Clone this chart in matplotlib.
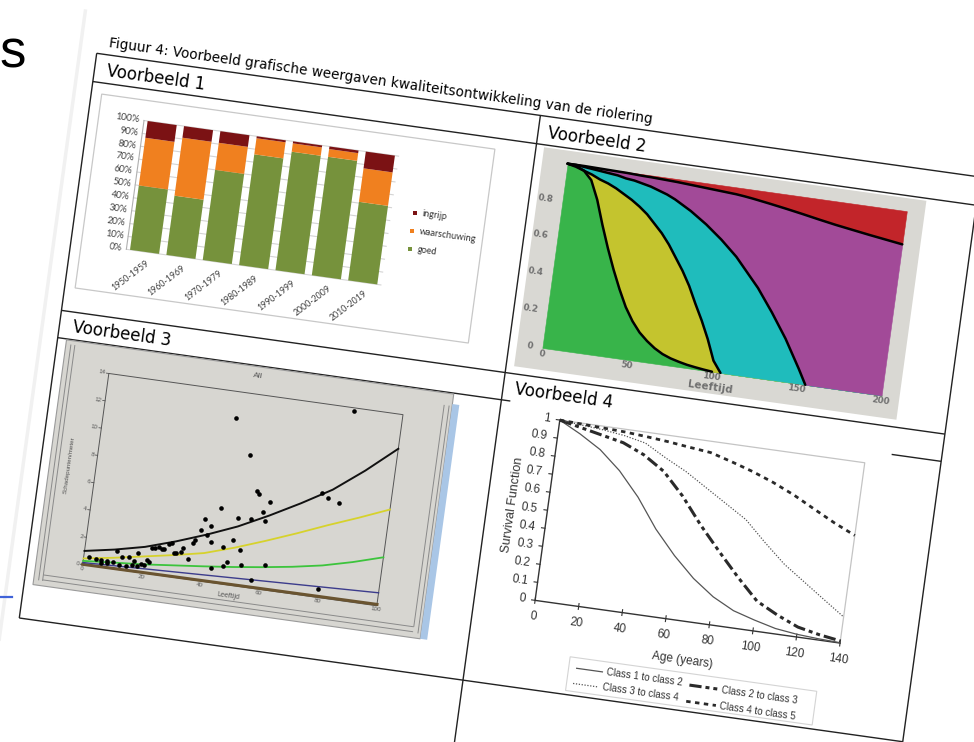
import numpy as np
import matplotlib
matplotlib.use("Agg")
import matplotlib.pyplot as plt
from matplotlib.transforms import Affine2D
from matplotlib.patches import Polygon

# ---------------- data ----------------
# Voorbeeld 1: share of sewer length per construction period (%)
periods = ["1950-1959", "1960-1969", "1970-1979", "1980-1989",
           "1990-1999", "2000-2009", "2010-2019"]
goed = [50, 46, 70, 86, 92, 92, 61]
waarschuwing = [37, 45, 21, 12.5, 6.5, 6, 26]
ingrijp = [13, 9, 9, 1.5, 1.5, 2, 13]

# Voorbeeld 2: cumulative condition-class boundaries vs age
age2 = [0, 5, 10, 15, 20, 25, 30, 35, 40, 45, 50, 55, 60, 65, 70, 75, 80, 85, 90, 95,
        100, 105, 110, 120, 130, 140, 150, 155, 160, 170, 180, 190, 200]
bound1 = [1.0, 0.995, 0.975, 0.93, 0.83, 0.70, 0.58, 0.47, 0.37, 0.28, 0.21, 0.155, 0.115,
          0.082, 0.057, 0.04, 0.028, 0.018, 0.011, 0.005, 0.0,
          0, 0, 0, 0, 0, 0, 0, 0, 0, 0, 0, 0]
bound2 = [1.0, 0.99, 0.975, 0.96, 0.94, 0.925, 0.905, 0.88, 0.855, 0.825, 0.79, 0.745,
          0.70, 0.645, 0.58, 0.515, 0.44, 0.35, 0.265, 0.17, 0.06,
          0.0, 0, 0, 0, 0, 0, 0, 0, 0, 0, 0, 0]
bound3 = [1.0, 1.0, 0.995, 0.99, 0.985, 0.98, 0.975, 0.965, 0.96, 0.95, 0.94, 0.925,
          0.91, 0.89, 0.865, 0.84, 0.81, 0.78, 0.745, 0.71, 0.67,
          0.63, 0.58, 0.48, 0.36, 0.23, 0.08, 0.0, 0, 0, 0, 0, 0]
bound4 = [1.0, 1.0, 1.0, 0.999, 0.998, 0.997, 0.996, 0.995, 0.993, 0.991, 0.99, 0.988,
          0.986, 0.984, 0.981, 0.978, 0.975, 0.972, 0.969, 0.966, 0.963,
          0.958, 0.952, 0.938, 0.923, 0.907, 0.89, 0.882, 0.874, 0.86, 0.846, 0.833, 0.82]
colors2 = ["#38b44a", "#c4c42e", "#1fbcbc", "#a24a98", "#c2252a"]

# Voorbeeld 3: damage points per metre vs age
pts3_x = [1.9, 4.2, 5.9, 7.9, 9.9, 11.0, 12.9, 15.1, 17.0, 17.9, 19.3, 21.2, 21.9, 22.4,
          23.3, 24.6, 25.6, 26.6, 27.8, 28.8, 29.9, 30.7, 32.1, 32.7, 34.8, 12.2, 14.4,
          16.6, 18.3, 20.5, 6.0, 8.2,
          35.8, 36.4, 37.8, 38.7, 40.1, 40.9, 41.8, 43.0, 43.7, 45.9, 46.9, 48.0, 48.9,
          49.7, 51.9, 52.8, 53.9, 44.5, 50.7, 54.7, 55.7, 57.7, 58.8, 59.7, 60.9, 56.9,
          76.5, 78.7, 82.6, 79.8, 83.4]
pts3_y = [0.59, 0.53, 0.49, 0.48, 0.46, 1.29, 0.94, 1.0, 0.81, 1.38, 0.61, 0.94, 0.87, 1.87,
          1.95, 2.01, 1.94, 1.92, 2.35, 2.42, 1.73, 1.80, 1.86, 2.17, 1.45, 0.36, 0.34,
          0.49, 0.46, 0.6, 0.3, 0.33,
          2.68, 2.89, 3.66, 4.54, 3.36, 4.04, 2.93, 1.01, 5.46, 2.68, 1.30, 1.65, 3.26,
          4.93, 2.61, 1.54, 4.98, 12.06, 9.56, 7.03, 6.86, 5.58, 4.93, 6.37, 1.83, 0.57,
          7.52, 7.22, 6.97, 0.6, 13.76]
age3 = [0, 10, 20, 30, 40, 50, 60, 70, 80, 90, 100]
fit_black = [1.0, 1.4, 1.9, 2.6, 3.4, 4.3, 5.4, 6.6, 7.9, 9.6, 11.5]
fit_yellow = [0.45, 0.8, 1.2, 1.6, 2.05, 2.75, 3.55, 4.4, 5.3, 6.15, 7.05]
fit_green = [0.27, 0.45, 0.62, 0.85, 1.08, 1.33, 1.62, 1.95, 2.35, 2.9, 3.55]
line_x = [0, 100]
fit_blue = [0.15, 0.95]
fit_brown = [0.02, 0.1]

# Voorbeeld 4: survival functions
age4 = [0, 10, 20, 30, 40, 50, 60, 70, 80, 90, 100, 110, 120, 130, 140]
class12 = [1.0, 0.94, 0.87, 0.77, 0.64, 0.48, 0.35, 0.24, 0.155, 0.095, 0.06, 0.03, 0.015, 0.007, 0.002]
class23 = [1.0, 0.975, 0.95, 0.925, 0.875, 0.80, 0.68, 0.535, 0.405, 0.28, 0.165, 0.105, 0.055, 0.03, 0.012]
class34 = [1.0, 0.99, 0.98, 0.965, 0.94, 0.875, 0.816, 0.744, 0.672, 0.6, 0.49, 0.387, 0.306, 0.225, 0.145]
class45 = [1.0, 0.995, 0.99, 0.985, 0.976, 0.965, 0.951, 0.938, 0.904, 0.867, 0.823, 0.771, 0.71, 0.65, 0.597]

# ---------------- canvas ----------------
W, H = 974, 742
fig = plt.figure(figsize=(W / 100, H / 100), dpi=100)
ax = fig.add_axes([0, 0, 1, 1])
ax.set_xlim(0, W)
ax.set_ylim(H, 0)
ax.set_autoscale_on(False)
ax.axis("off")

# the scanned page is slightly rotated: page (u, v) -> pixels
page = Affine2D(np.array([[0.9904, -0.1358, 96.7],
                          [0.1387, 0.9907, 53.3],
                          [0, 0, 1.0]])) + ax.transData
TILT = -8


def panel(x0, x1, y0, y1, u0, u1, vb, vt):
    # data box of one chart placed on the page
    return (Affine2D().translate(-x0, -y0)
            .scale((u1 - u0) / (x1 - x0), (vt - vb) / (y1 - y0))
            .translate(u0, vb) + page)


def txt(tr, x, y, s, size, rot=0, **kw):
    kw.setdefault("color", "black")
    ax.text(x, y, s, transform=tr, fontsize=size, rotation=rot + TILT,
            rotation_mode="anchor", **kw)


def box(u0, u1, v0, v1, fc, ec="none", lw=0.8, z=2):
    ax.add_patch(Polygon([(u0, v0), (u1, v0), (u1, v1), (u0, v1)], closed=True,
                         facecolor=fc, edgecolor=ec, lw=lw, transform=page, zorder=z))


def pline(us, vs, color="#222222", lw=1.0, z=1):
    ax.plot(us, vs, color=color, lw=lw, transform=page, zorder=z, solid_capstyle="butt")


# slide remnants
ax.text(-1, 67, "s", fontsize=38, family="Liberation Sans", va="baseline", ha="left")
ax.plot([0, 12], [597, 597], color="#3f62d8", lw=1.6)

# page edge and table
pline([-17, -17], [800, -42], color="#f1f1f1", lw=2.5, z=0)
pline([0, 892], [0, 0])
pline([0, 892], [28.5, 28.5])
pline([0, 892], [259.5, 259.5])
pline([0, 892], [287, 287])
pline([0, 892], [570, 570])
pline([0, 0], [0, 570])
pline([448, 448], [0, 660])
pline([892, 892], [0, 720])

doc = dict(family="DejaVu Sans", va="baseline", ha="left")
txt(page, 11, -7.5, "Figuur 4: Voorbeeld grafische weergaven kwaliteitsontwikkeling van de riolering", 9.8, **doc)
txt(page, 12, 21, "Voorbeeld 1", 12, **doc)
txt(page, 458, 21, "Voorbeeld 2", 12, **doc)
txt(page, 13, 280, "Voorbeeld 3", 12, **doc)
txt(page, 460, 279, "Voorbeeld 4", 12, **doc)

# ---------------- Voorbeeld 1: stacked bars ----------------
box(10.5, 407.5, 39.7, 235.4, "white", "#c8c8c8", 0.9)
T1 = panel(-0.5, 6.5, 0, 100, 56, 313, 190, 60)
xb = np.arange(len(periods))
g = np.array(goed)
w = np.array(waarschuwing)
for t in range(0, 101, 10):
    ax.plot([-0.5, 6.5], [t, t], color="#d4d4d4", lw=0.8, transform=T1, zorder=3)
    txt(T1, -0.62, t, f"{t}%", 6.8, family="Lato", ha="right", va="center", color="#404040")
ax.plot([-0.5, -0.5], [0, 100], color="#b0b0b0", lw=0.8, transform=T1, zorder=3)
ax.bar(xb, g, 0.8, color="#76923c", transform=T1, zorder=4)
ax.bar(xb, w, 0.8, bottom=g, color="#f0801f", transform=T1, zorder=4)
ax.bar(xb, ingrijp, 0.8, bottom=g + w, color="#7b1214", transform=T1, zorder=4)
for i, p in enumerate(periods):
    txt(T1, i + 0.05, -5, p, 6.3, rot=45, family="Lato", ha="right", va="top", color="#404040")
leg1 = [("ingrijp", "#7b1214"), ("waarschuwing", "#f0801f"), ("goed", "#76923c")]
for k, (name, c) in enumerate(leg1):
    yl = 58.5 - 14 * k
    ax.scatter([7.15], [yl], marker="s", s=12, color=c, transform=T1, zorder=4, linewidths=0)
    txt(T1, 7.35, yl, name, 6.6, family="Lato", ha="left", va="center", color="#303030")

# ---------------- Voorbeeld 2: stacked areas ----------------
box(456, 842, 31, 252, "#d9d8d3")
T2 = panel(0, 200, 0, 1, 481.5, 824, 230, 44)
layers = [np.zeros(len(age2)), bound1, bound2, bound3, bound4, np.ones(len(age2))]
for k in range(5):
    ax.fill_between(age2, layers[k], layers[k + 1], facecolor=colors2[k],
                    edgecolor=colors2[k], lw=0.4, transform=T2, zorder=3)
for b in (bound1, bound2, bound3, bound4):
    b = np.array(b)
    zero = np.where(b <= 0)[0]
    end = zero[0] + 1 if len(zero) else len(b)
    ax.plot(age2[:end], b[:end], color="black", lw=1.8, transform=T2, zorder=4,
            solid_capstyle="round", solid_joinstyle="round")
lab2 = dict(family="DejaVu Sans", weight="bold", color="#707070")
for t in [0, 0.2, 0.4, 0.6, 0.8]:
    txt(T2, -5.5, t, "0" if t == 0 else f"{t:.1f}", 6.3, ha="right", va="center", **lab2)
for t in [0, 50, 100, 150, 200]:
    txt(T2, t, -0.03, str(t), 6.3, ha="center", va="center", **lab2)
txt(T2, 100, -0.085, "Leeftijd", 7.5, ha="center", va="center", **lab2)

# ---------------- Voorbeeld 3: scatter with fits ----------------
box(9, 400, 288, 535, "#d7d6d1", "#9a9a9a", 0.8)
box(400, 407, 298, 535, "#a9c6e6")
pline([14, 14], [292, 530], "#8a8a8a", 0.7, 3)
pline([18, 18], [292, 530], "#8a8a8a", 0.7, 3)
pline([18, 392], [524, 524], "#8a8a8a", 0.7, 3)
pline([18, 392], [529, 529], "#8a8a8a", 0.7, 3)
pline([392, 392], [300, 524], "#8a8a8a", 0.7, 3)
pline([397, 397], [300, 530], "#8a8a8a", 0.7, 3)
T3 = panel(0, 100, 0, 14, 55.5, 352.5, 508.3, 315.4)
ax.plot([0, 100, 100, 0, 0], [0, 0, 14, 14, 0], color="#555555", lw=0.7, transform=T3, zorder=4)
lab3 = dict(family="Liberation Sans", color="#555555")
for t in range(0, 15, 2):
    ax.plot([-0.8, 0], [t, t], color="#555555", lw=0.6, transform=T3, zorder=4)
    txt(T3, -1.2, t, str(t), 4.5, ha="right", va="center", **lab3)
for t in range(0, 101, 20):
    txt(T3, t, -0.1, str(t), 4.5, ha="center", va="top", **lab3)
txt(T3, 50, -0.55, "Leeftijd", 5, ha="center", va="top", **lab3)
txt(T3, 50, 15.3, "All", 6, ha="center", va="center", **lab3)
txt(T3, -8.9, 7, "Schadepunten/meter", 4.5, rot=90, ha="center", va="center", **lab3)
ax.plot(line_x, fit_brown, color="#6a5430", lw=2.2, transform=T3, zorder=5)
ax.plot(line_x, fit_blue, color="#3c3c8c", lw=1.0, transform=T3, zorder=5)
ax.plot(age3, fit_green, color="#3cc43c", lw=1.3, transform=T3, zorder=5)
ax.plot(age3, fit_yellow, color="#d6d22c", lw=1.3, transform=T3, zorder=5)
ax.plot(age3, fit_black, color="#111111", lw=1.4, transform=T3, zorder=5)
ax.scatter(pts3_x, pts3_y, s=11, color="black", linewidths=0, transform=T3, zorder=6)

# ---------------- Voorbeeld 4: survival functions ----------------
box(457, 842, 283, 566, "white", z=2)
T4 = panel(0, 140, 0, 1, 508.6, 816.5, 481, 299)
ax.plot([0, 140, 140], [1, 1, 0], color="#c4c4c4", lw=0.9, transform=T4, zorder=3)
ax.plot([0, 0, 140], [1, 0, 0], color="#333333", lw=1.0, transform=T4, zorder=4)
lab4 = dict(family="Liberation Sans", color="#333333")
for t in np.arange(0, 1.01, 0.1):
    ax.plot([-1.6, 0], [t, t], color="#333333", lw=0.8, transform=T4, zorder=4)
    s = "0" if t == 0 else ("1" if t > 0.99 else f"{t:.1f}")
    txt(T4, -4.5, t, s, 8.5, ha="right", va="center", **lab4)
for t in range(0, 141, 20):
    ax.plot([t, t], [-0.016, 0.016], color="#333333", lw=0.8, transform=T4, zorder=4)
    txt(T4, t, -0.09, str(t), 8.5, ha="center", va="center", **lab4)
txt(T4, 70, -0.215, "Age (years)", 8.6, ha="center", va="center", **lab4)
txt(T4, -16, 0.5, "Survival Function", 9, rot=90, ha="center", va="center", **lab4)

styles4 = [
    ("Class 1 to class 2", class12, dict(color="#555555", lw=0.9)),
    ("Class 2 to class 3", class23, dict(color="#2a2a2a", lw=2.2, dashes=[4, 1.3, 1.3, 1.3, 1.3, 1.3])),
    ("Class 3 to class 4", class34, dict(color="#555555", lw=0.9, dashes=[1, 1.3])),
    ("Class 4 to class 5", class45, dict(color="#2a2a2a", lw=2.0, dashes=[1.6, 1.6])),
]
for name, ys, st in styles4:
    ax.plot(age4, ys, transform=T4, zorder=5, **st)

box(551, 800, 532, 566, "white", "#d4d4d4", 0.8, z=3)
slots = [(559, 589, 542.5), (673, 705.5, 543.5), (557.5, 587, 558), (672, 706, 560)]
for k, (u_line, u_txt, v) in enumerate(slots):
    name, _, st = styles4[k]
    ax.plot([u_line, u_txt - 4], [v, v], transform=page, zorder=5, **st)
    txt(page, u_txt, v, name, 7, ha="left", va="center", **lab4)

fig.savefig("out.png", dpi=100, facecolor="white")
